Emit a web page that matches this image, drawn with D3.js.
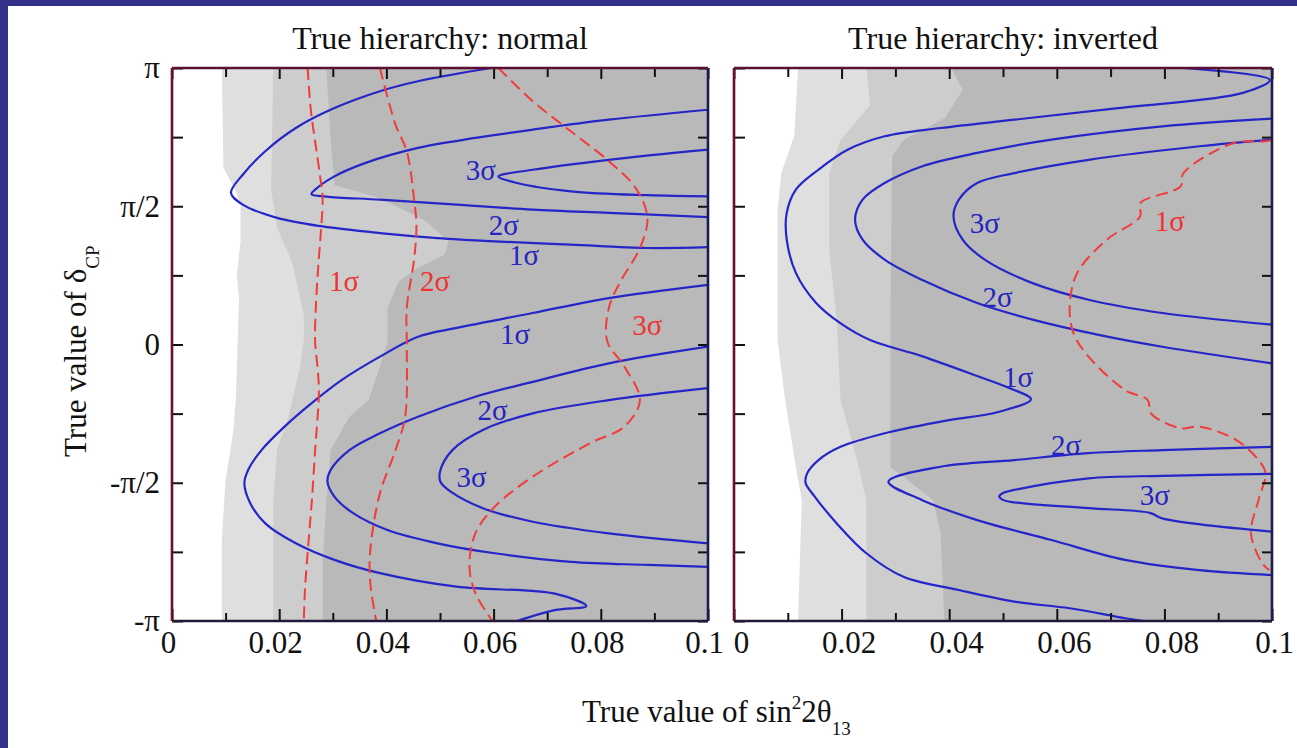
<!DOCTYPE html>
<html><head><meta charset="utf-8">
<script src="https://cdn.jsdelivr.net/npm/d3@7"></script>
<style>
html,body{margin:0;padding:0;background:#fff;}
svg{display:block;}
text{font-family:"Liberation Serif","Times New Roman",serif;}
</style></head><body>
<svg id="chart" width="1297" height="748"></svg>
<script>
// ---------------- DATA (x = true sin^2(2θ13), d = true δCP in units of π) ----------------
const xTicksMajor = [0, 0.02, 0.04, 0.06, 0.08, 0.1];
const xTicksMinor = [0.01, 0.03, 0.05, 0.07, 0.09];
const yTicksMajor = [-1, -0.5, 0, 0.5, 1];
const yTicksMinor = [-0.75, -0.25, 0.25, 0.75];
const yTickLabels = ["-π", "-π/2", "0", "π/2", "π"];
const panelTitles = ["True hierarchy: normal", "True hierarchy: inverted"];

// Normal hierarchy: shaded bands (boundary, region to the right is shaded)
const nhShade1 = [[0.0093,1],[0.0096,0.638],[0.0118,0.559],[0.0128,0.505],[0.0128,0.374],[0.0121,0.251],[0.0125,0.161],[0.0119,-0.201],[0.0114,-0.320],[0.0100,-0.490],[0.0093,-0.707],[0.0093,-1]];
const nhShade2 = [[0.0189,1],[0.0185,0.559],[0.0196,0.421],[0.0224,0.298],[0.0246,0.107],[0.0246,0.016],[0.0239,-0.081],[0.0217,-0.262],[0.0196,-0.382],[0.0189,-0.562],[0.0189,-1]];
const nhShade3 = [[0.0288,1],[0.0296,0.740],[0.0303,0.577],[0.0388,0.530],[0.0474,0.446],[0.0516,0.373],[0.0509,0.325],[0.0459,0.277],[0.0423,0.229],[0.0402,0.132],[0.0402,0.012],[0.0388,-0.080],[0.0367,-0.201],[0.0331,-0.261],[0.0296,-0.382],[0.0288,-0.562],[0.0281,-0.804],[0.0281,-1]];

// Normal hierarchy: blue contours
const nhBlue1Upper = [[0.0595,1],[0.0459,0.952],[0.0388,0.916],[0.0303,0.855],[0.0231,0.783],[0.0174,0.699],[0.0132,0.614],[0.0110,0.548],[0.0132,0.506],[0.0196,0.458],[0.0281,0.427],[0.0388,0.403],[0.0495,0.385],[0.0602,0.373],[0.0744,0.361],[0.0887,0.349],[0.1,0.352]];
const nhBlue2Upper = [[0.1,0.849],[0.0815,0.813],[0.0673,0.777],[0.0566,0.747],[0.0459,0.711],[0.0360,0.656],[0.0303,0.608],[0.0267,0.560],[0.0260,0.544],[0.0288,0.535],[0.0388,0.524],[0.0531,0.506],[0.0673,0.488],[0.0815,0.476],[0.1,0.461]];
const nhBlue3Upper = [[0.1,0.705],[0.0815,0.668],[0.0673,0.632],[0.0609,0.608],[0.0644,0.584],[0.0744,0.554],[0.0887,0.540],[0.1,0.536]];
const nhBlue1Lower = [[0.1,0.216],[0.0815,0.168],[0.0673,0.114],[0.0531,0.060],[0.0459,0.028],[0.0388,-0.044],[0.0317,-0.128],[0.0260,-0.213],[0.0210,-0.297],[0.0167,-0.382],[0.0142,-0.454],[0.0135,-0.502],[0.0146,-0.574],[0.0174,-0.647],[0.0231,-0.719],[0.0303,-0.779],[0.0388,-0.827],[0.0531,-0.876],[0.0716,-0.902],[0.0773,-0.946],[0.0716,-0.960],[0.0644,-1]];
const nhBlue2Lower = [[0.1,-0.008],[0.0815,-0.068],[0.0673,-0.135],[0.0566,-0.189],[0.0459,-0.261],[0.0388,-0.321],[0.0331,-0.382],[0.0296,-0.454],[0.0290,-0.496],[0.0303,-0.550],[0.0338,-0.610],[0.0402,-0.671],[0.0495,-0.719],[0.0602,-0.755],[0.0744,-0.786],[0.0887,-0.797],[0.1,-0.804]];
const nhBlue3Lower = [[0.1,-0.158],[0.0815,-0.201],[0.0673,-0.249],[0.0580,-0.309],[0.0523,-0.382],[0.0500,-0.460],[0.0501,-0.497],[0.0520,-0.532],[0.0580,-0.592],[0.0673,-0.641],[0.0815,-0.683],[0.1,-0.719]];

// Normal hierarchy: red dashed contours
const nhRed1 = [[0.0253,1],[0.0259,0.848],[0.0267,0.735],[0.0276,0.613],[0.0281,0.530],[0.0278,0.414],[0.0274,0.313],[0.0269,0.161],[0.0267,0.012],[0.0272,-0.092],[0.0274,-0.176],[0.0267,-0.382],[0.0261,-0.562],[0.0256,-0.683],[0.0248,-0.888],[0.0246,-1]];
const nhRed2 = [[0.0388,1],[0.0417,0.795],[0.0438,0.699],[0.0452,0.518],[0.0456,0.433],[0.0452,0.313],[0.0438,0.132],[0.0438,0.004],[0.0435,-0.261],[0.0417,-0.382],[0.0388,-0.538],[0.0370,-0.743],[0.0370,-0.864],[0.0381,-1]];
const nhRed3 = [[0.0609,1],[0.0673,0.880],[0.0744,0.771],[0.0815,0.663],[0.0865,0.566],[0.0887,0.458],[0.0873,0.349],[0.0837,0.229],[0.0815,0.132],[0.0812,0.012],[0.0844,-0.080],[0.0873,-0.201],[0.0844,-0.297],[0.0780,-0.357],[0.0673,-0.478],[0.0602,-0.587],[0.0566,-0.683],[0.0555,-0.804],[0.0566,-0.900],[0.0598,-1]];

const nhBlueLabels = [[0.0576,0.632,"3σ"],[0.0619,0.433,"2σ"],[0.0657,0.325,"1σ"],[0.0640,0.038,"1σ"],[0.0598,-0.237,"2σ"],[0.0559,-0.478,"3σ"]];
const nhRedLabels = [[0.0321,0.229,"1σ"],[0.0491,0.229,"2σ"],[0.0887,0.071,"3σ"]];

// Inverted hierarchy: shaded bands
const ihShade1 = [[0.0119,1],[0.0112,0.754],[0.0088,0.620],[0.0081,0.486],[0.0081,0.016],[0.0095,-0.201],[0.0115,-0.443],[0.0126,-0.562],[0.0119,-1]];
const ihShade2 = [[0.0246,1],[0.0253,0.866],[0.0198,0.740],[0.0177,0.620],[0.0177,0.342],[0.0191,0.089],[0.0198,-0.201],[0.0232,-0.443],[0.0246,-0.562],[0.0246,-1]];
const ihShade3 = [[0.0404,1],[0.0425,0.920],[0.0392,0.819],[0.0315,0.740],[0.0294,0.682],[0.0291,0.161],[0.0291,-0.443],[0.0370,-0.562],[0.0384,-0.682],[0.0391,-1]];

// Inverted hierarchy: blue contours
const ihBlue1 = [[0.0835,1],[0.0996,0.957],[0.0946,0.910],[0.0714,0.855],[0.0521,0.813],[0.0384,0.783],[0.0280,0.753],[0.0212,0.705],[0.0157,0.632],[0.0115,0.560],[0.0098,0.476],[0.0098,0.379],[0.0115,0.259],[0.0151,0.154],[0.0197,0.078],[0.0253,0.016],[0.0349,-0.042],[0.0452,-0.114],[0.0507,-0.154],[0.0552,-0.198],[0.0493,-0.243],[0.0384,-0.279],[0.0280,-0.321],[0.0198,-0.370],[0.0157,-0.418],[0.0136,-0.466],[0.0133,-0.500],[0.0150,-0.550],[0.0191,-0.647],[0.0246,-0.755],[0.0315,-0.840],[0.0418,-0.888],[0.0521,-0.930],[0.0624,-0.954],[0.0727,-0.990],[0.0762,-1]];
const ihBlue2Upper = [[0.1,0.817],[0.0796,0.789],[0.0590,0.741],[0.0452,0.693],[0.0349,0.644],[0.0280,0.584],[0.0239,0.524],[0.0225,0.451],[0.0239,0.379],[0.0280,0.307],[0.0349,0.234],[0.0452,0.150],[0.0555,0.090],[0.0680,0.034],[0.0796,-0.008],[0.1,-0.068]];
const ihBlue3Upper = [[0.1,0.741],[0.0865,0.717],[0.0659,0.668],[0.0521,0.620],[0.0452,0.584],[0.0418,0.524],[0.0408,0.464],[0.0425,0.379],[0.0466,0.307],[0.0555,0.222],[0.0659,0.162],[0.0796,0.114],[0.1,0.072]];
const ihBlue2Lower = [[0.1,-0.370],[0.0796,-0.382],[0.0659,-0.393],[0.0521,-0.418],[0.0384,-0.442],[0.0287,-0.496],[0.0349,-0.562],[0.0452,-0.635],[0.0590,-0.707],[0.0727,-0.779],[0.0865,-0.816],[0.1,-0.834]];
const ihBlue3Lower = [[0.1,-0.468],[0.0796,-0.475],[0.0659,-0.484],[0.0521,-0.526],[0.0500,-0.537],[0.0493,-0.550],[0.0500,-0.562],[0.0514,-0.569],[0.0659,-0.592],[0.0773,-0.609],[0.0796,-0.629],[0.1,-0.677]];

// Inverted hierarchy: red dashed contour
const ihRed1 = [[0.1,0.740],[0.0988,0.735],[0.0928,0.728],[0.0835,0.619],[0.0830,0.572],[0.0755,0.511],[0.0755,0.464],[0.0693,0.379],[0.0638,0.259],[0.0624,0.138],[0.0631,0.041],[0.0659,-0.044],[0.0727,-0.165],[0.0769,-0.201],[0.0775,-0.249],[0.0830,-0.303],[0.0865,-0.297],[0.0933,-0.345],[0.0975,-0.418],[0.0988,-0.466],[0.0975,-0.562],[0.0961,-0.683],[0.0982,-0.791],[0.0995,-0.816]];

const ihBlueLabels = [[0.0466,0.439,"3σ"],[0.0490,0.174,"2σ"],[0.0528,-0.116,"1σ"],[0.0617,-0.363,"2σ"],[0.0782,-0.544,"3σ"]];
const ihRedLabels = [[0.0810,0.446,"1σ"]];

// ---------------- DRAWING ----------------
const svg = d3.select("#chart");
const W = 1297, H = 748;
const TOP = 68, BOTTOM = 621;
const BLUE = "#2626c8", RED = "#f03c3c";
const SHADES = ["#dfdfdf", "#cdcdcd", "#b9b9b9"];
const FONT = '"Liberation Serif","Times New Roman",serif';

svg.append("rect").attr("width", W).attr("height", H).attr("fill", "#fff");
svg.append("rect").attr("x", 0).attr("y", 0).attr("width", 8).attr("height", H).attr("fill", "#32328a");
svg.append("rect").attr("x", 0).attr("y", 0).attr("width", W).attr("height", 6).attr("fill", "#32328a");

const panels = [
  {title: panelTitles[0], left: 172, right: 708, labelDx: -4, showY: true,
   shades: [nhShade1, nhShade2, nhShade3],
   blue: [nhBlue1Upper, nhBlue2Upper, nhBlue3Upper, nhBlue1Lower, nhBlue2Lower, nhBlue3Lower],
   red: [nhRed1, nhRed2, nhRed3], blueLabels: nhBlueLabels, redLabels: nhRedLabels},
  {title: panelTitles[1], left: 734, right: 1272, labelDx: 7, showY: false,
   shades: [ihShade1, ihShade2, ihShade3],
   blue: [ihBlue1, ihBlue2Upper, ihBlue3Upper, ihBlue2Lower, ihBlue3Lower],
   red: [ihRed1], blueLabels: ihBlueLabels, redLabels: ihRedLabels}
];

const fmtX = d => d === 0 ? "0" : String(+d.toFixed(2));

panels.forEach((p, i) => {
  const x = d3.scaleLinear().domain([0, 0.1]).range([p.left, p.right]);
  const y = d3.scaleLinear().domain([-1, 1]).range([BOTTOM, TOP]);
  const g = svg.append("g");

  const clipId = "clip" + i;
  svg.append("clipPath").attr("id", clipId).append("rect")
    .attr("x", p.left).attr("y", TOP).attr("width", p.right - p.left).attr("height", BOTTOM - TOP);

  const plot = g.append("g").attr("clip-path", `url(#${clipId})`);
  plot.append("rect").attr("x", p.left).attr("y", TOP).attr("width", p.right - p.left)
    .attr("height", BOTTOM - TOP).attr("fill", "#fff");

  const area = d3.area().x0(d => x(d[0])).x1(x(0.1)).y(d => y(d[1]));
  p.shades.forEach((s, k) => {
    plot.append("path").attr("d", area(s)).attr("fill", SHADES[k]);
  });

  const line = d3.line().x(d => x(d[0])).y(d => y(d[1])).curve(d3.curveCatmullRom.alpha(0.5));
  p.blue.forEach(c => plot.append("path").attr("d", line(c)).attr("fill", "none")
    .attr("stroke", BLUE).attr("stroke-width", 2.2));
  p.red.forEach(c => plot.append("path").attr("d", line(c)).attr("fill", "none")
    .attr("stroke", RED).attr("stroke-width", 2).attr("stroke-dasharray", "12,6"));

  const lab = (arr, col) => g.selectAll(null).data(arr).enter().append("text")
    .attr("x", d => x(d[0])).attr("y", d => y(d[1])).attr("dy", "0.35em")
    .attr("text-anchor", "middle").attr("font-family", FONT).attr("font-size", 29)
    .attr("fill", col).text(d => d[2]);
  lab(p.blueLabels, "#2424c0");
  lab(p.redLabels, "#ee3333");

  const styleAxis = sel => {
    sel.select(".domain").remove();
    sel.selectAll(".tick line").attr("stroke", "#111").attr("stroke-width", 2);
    sel.attr("font-family", FONT).attr("font-size", 31);
    sel.selectAll(".tick text").attr("fill", "#111");
  };

  // bottom
  g.append("g").attr("transform", `translate(0,${BOTTOM})`)
    .call(d3.axisBottom(x).tickValues(xTicksMajor).tickSizeInner(-12).tickSizeOuter(0).tickPadding(10).tickFormat(fmtX))
    .call(styleAxis)
    .call(s => s.selectAll(".tick text").attr("dx", d => (i === 1 && d === 0.1) ? 2 : p.labelDx));
  g.append("g").attr("transform", `translate(0,${BOTTOM})`)
    .call(d3.axisBottom(x).tickValues(xTicksMinor).tickSizeInner(-8).tickSizeOuter(0).tickFormat(""))
    .call(styleAxis);
  // top
  g.append("g").attr("transform", `translate(0,${TOP})`)
    .call(d3.axisTop(x).tickValues(xTicksMajor).tickSizeInner(-11).tickSizeOuter(0).tickFormat(""))
    .call(styleAxis);
  g.append("g").attr("transform", `translate(0,${TOP})`)
    .call(d3.axisTop(x).tickValues(xTicksMinor).tickSizeInner(-9).tickSizeOuter(0).tickFormat(""))
    .call(styleAxis);
  // left
  g.append("g").attr("transform", `translate(${p.left},0)`)
    .call(d3.axisLeft(y).tickValues(yTicksMajor).tickSizeInner(-11).tickSizeOuter(0).tickPadding(12)
      .tickFormat((d, j) => p.showY ? yTickLabels[j] : ""))
    .call(styleAxis);
  g.append("g").attr("transform", `translate(${p.left},0)`)
    .call(d3.axisLeft(y).tickValues(yTicksMinor).tickSizeInner(-11).tickSizeOuter(0).tickFormat(""))
    .call(styleAxis);
  // right
  g.append("g").attr("transform", `translate(${p.right},0)`)
    .call(d3.axisRight(y).tickValues(yTicksMajor.concat(yTicksMinor)).tickSizeInner(-10).tickSizeOuter(0).tickFormat(""))
    .call(styleAxis);

  // frame
  const fr = g.append("g").attr("stroke-width", 2.6).attr("fill", "none");
  fr.append("line").attr("x1", p.left).attr("x2", p.right).attr("y1", BOTTOM).attr("y2", BOTTOM).attr("stroke", "#24183f");
  fr.append("line").attr("x1", p.right).attr("x2", p.right).attr("y1", TOP).attr("y2", BOTTOM).attr("stroke", "#1c1c50");
  fr.append("line").attr("x1", p.left).attr("x2", p.right).attr("y1", TOP).attr("y2", TOP).attr("stroke", "#5a1030");
  fr.append("line").attr("x1", p.left).attr("x2", p.left).attr("y1", TOP).attr("y2", BOTTOM).attr("stroke", "#6a0f24");

  // title
  g.append("text").attr("x", (p.left + p.right) / 2).attr("y", 49).attr("text-anchor", "middle")
    .attr("font-family", FONT).attr("font-size", 32).attr("fill", "#111").text(p.title);
});

// x axis title
const xt = svg.append("text").attr("x", 582).attr("y", 722).attr("font-family", FONT)
  .attr("font-size", 31).attr("fill", "#111");
xt.append("tspan").text("True value of sin");
xt.append("tspan").attr("dy", -13).attr("font-size", 19).text("2");
xt.append("tspan").attr("dy", 13).text("2θ");
xt.append("tspan").attr("dy", 13).attr("font-size", 19).text("13");

// y axis title
const yt = svg.append("text").attr("transform", "translate(86,457) rotate(-90)")
  .attr("font-family", FONT).attr("font-size", 31).attr("fill", "#111");
yt.append("tspan").text("True value of δ");
yt.append("tspan").attr("dy", 13).attr("font-size", 19).text("CP");
</script></body></html>
